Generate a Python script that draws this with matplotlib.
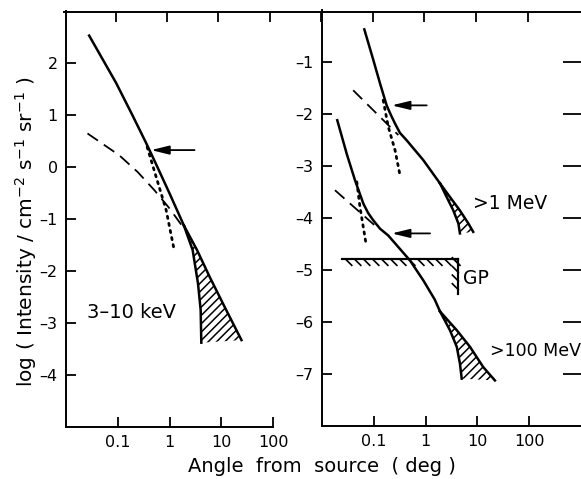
import matplotlib
matplotlib.use("Agg")
import matplotlib.pyplot as plt
import matplotlib.patheffects as pe

W, H = 581, 479

# ---------------- 3-10 keV panel ----------------
kev_main_x = [0.028, 0.093, 0.19, 0.36, 0.55, 1.0, 1.9]
kev_main_y = [2.52, 1.61, 1.0, 0.44, 0.05, -0.51, -1.13]
kev_upper_x = [1.9, 3.4, 6.0, 12.0, 24.6]
kev_upper_y = [-1.13, -1.6, -2.12, -2.72, -3.33]
kev_lower_x = [1.9, 2.8, 3.55, 4.0, 4.12]
kev_lower_y = [-1.13, -1.6, -2.24, -2.75, -3.38]
kev_dash_x = [0.026, 0.107, 0.242, 0.51, 1.0, 1.95]
kev_dash_y = [0.64, 0.22, -0.1, -0.45, -0.8, -1.2]
kev_dot_x = [0.37, 0.55, 0.86, 1.25]
kev_dot_y = [0.38, -0.19, -0.83, -1.63]
kev_arrow = (3.05, 0.44, 0.32)   # tail x, tip x, y

# ---------------- >1 MeV ----------------
mev1_main_x = [0.0656, 0.098, 0.132, 0.177, 0.215, 0.257, 0.32, 0.43, 0.9, 1.9]
mev1_main_y = [-0.38, -0.97, -1.42, -1.84, -2.03, -2.19, -2.37, -2.51, -2.89, -3.34]
mev1_upper_x = [1.9, 2.95, 4.6, 6.7, 8.3]
mev1_upper_y = [-3.34, -3.6, -3.86, -4.11, -4.27]
mev1_lower_x = [1.9, 2.55, 3.43, 4.3, 4.6]
mev1_lower_y = [-3.34, -3.6, -3.86, -4.11, -4.3]
mev1_dash_x = [0.04, 0.297]
mev1_dash_y = [-1.55, -2.41]
mev1_dot_x = [0.152, 0.19, 0.257, 0.32]
mev1_dot_y = [-1.74, -2.25, -2.70, -3.18]
mev1_arrow = (1.05, 0.222, -1.84)

# ---------------- >100 MeV ----------------
mev100_main_x = [0.0197, 0.030, 0.0434, 0.063, 0.078, 0.098, 0.132, 0.19,
                 0.5, 0.9, 1.5, 1.9]
mev100_main_y = [-2.125, -2.77, -3.28, -3.73, -3.91, -4.05, -4.21, -4.34,
                 -4.82, -5.2, -5.57, -5.8]
mev100_upper_x = [1.9, 4.0, 7.2, 13.0, 21.8]
mev100_upper_y = [-5.8, -6.16, -6.48, -6.87, -7.125]
mev100_lower_x = [1.9, 2.95, 4.0, 4.6, 4.98]
mev100_lower_y = [-5.8, -6.16, -6.48, -6.8, -7.09]
mev100_dash_x = [0.0178, 0.114]
mev100_dash_y = [-3.47, -4.18]
mev100_dot_x = [0.047, 0.054, 0.070]
mev100_dot_y = [-3.31, -3.79, -4.47]
mev100_arrow = (1.22, 0.222, -4.30)

# GP limit
gp_x = [0.024, 4.27]
gp_y = [-4.8, -5.46]

x_ticks = [0.1, 1, 10, 100]
x_labels = ["0.1", "1", "10", "100"]
left_yticks = [2, 1, 0, -1, -2, -3, -4]
right_yticks = [-1, -2, -3, -4, -5, -6, -7]

plt.rcParams["font.family"] = "DejaVu Sans"
plt.rcParams["hatch.linewidth"] = 1.1

fig = plt.figure(figsize=(W / 100, H / 100), dpi=100)


def fx(px):
    return px / W


def fy(py):
    return 1 - py / H


def style_axis(ax, xmax, ylim, yticks):
    ax.set_xscale("log")
    ax.set_xlim(0.01, xmax)
    ax.set_ylim(*ylim)
    ax.set_xticks(x_ticks)
    ax.set_xticklabels(x_labels)
    ax.minorticks_off()
    ax.set_yticks(yticks)
    ax.set_yticklabels([str(v).replace("-", "\u2013") for v in yticks])
    ax.spines["top"].set_visible(False)
    ax.spines["right"].set_visible(False)
    for s in ("left", "bottom"):
        ax.spines[s].set_linewidth(1.4)
    ax.tick_params(direction="in", length=7, width=1.3, labelsize=11.5, pad=6)
    ax.patch.set_alpha(0)


def draw_source(ax, mx, my, ux, uy, lx, ly, dx, dy, ox, oy, arrow):
    ax.fill(lx + ux[::-1], ly + uy[::-1], facecolor="none", edgecolor="black",
            hatch="////", linewidth=0)
    ax.plot(mx, my, color="black", lw=1.8, solid_joinstyle="round")
    ax.plot(ux, uy, color="black", lw=1.8, solid_joinstyle="round")
    ax.plot(lx, ly, color="black", lw=1.8, solid_joinstyle="round")
    ax.plot(dx, dy, color="black", lw=1.3, dashes=(7, 4))
    ax.plot(ox, oy, color="black", lw=2.0, linestyle=(0, (0.8, 1.8)),
            dash_capstyle="round")
    ax.annotate("", xy=(arrow[1], arrow[2]), xytext=(arrow[0], arrow[2]),
                arrowprops=dict(arrowstyle="-|>,head_length=0.9,head_width=0.22",
                                color="black", lw=1.3, mutation_scale=12,
                                shrinkA=0, shrinkB=0))


# outer frame line along the top
frame = fig.add_axes([fx(64), fy(427), fx(590) - fx(64), fy(11.5) - fy(427)])
frame.set_xlim(0, (590 - 64) / 51.5)
frame.set_ylim(0, 1)
for s in ("left", "right", "bottom"):
    frame.spines[s].set_visible(False)
frame.spines["top"].set_linewidth(1.4)
frame.set_xticks(range(1, 10))
frame.set_yticks([])
frame.tick_params(axis="x", top=True, bottom=False, labeltop=False,
                  labelbottom=False, direction="in", length=7, width=1.3)
frame.patch.set_alpha(0)

# left panel
ax1 = fig.add_axes([fx(66), fy(427), fx(273) - fx(66), fy(10.6) - fy(427)])
style_axis(ax1, 100, (-5, 3), left_yticks)
draw_source(ax1, kev_main_x, kev_main_y, kev_upper_x, kev_upper_y,
            kev_lower_x, kev_lower_y, kev_dash_x, kev_dash_y,
            kev_dot_x, kev_dot_y, kev_arrow)
ax1.text(0.026, -2.8, "3\u201310 keV", fontsize=14, va="center", ha="left")

# right panel
ax2 = fig.add_axes([fx(322), fy(426), fx(581) - fx(322), fy(9.6) - fy(426)])
style_axis(ax2, 1000, (-8, 0), right_yticks)
ax2.tick_params(axis="y", right=True, labelright=False)
for t in ax2.yaxis.get_major_ticks():
    t.tick2line.set_markersize(13)
draw_source(ax2, mev1_main_x, mev1_main_y, mev1_upper_x, mev1_upper_y,
            mev1_lower_x, mev1_lower_y, mev1_dash_x, mev1_dash_y,
            mev1_dot_x, mev1_dot_y, mev1_arrow)
draw_source(ax2, mev100_main_x, mev100_main_y, mev100_upper_x, mev100_upper_y,
            mev100_lower_x, mev100_lower_y, mev100_dash_x, mev100_dash_y,
            mev100_dot_x, mev100_dot_y, mev100_arrow)

# galactic plane limit
ax2.plot([gp_x[1], gp_x[0]], [gp_y[0], gp_y[0]], color="black", lw=1.5,
         path_effects=[pe.Stroke(linewidth=1.5, foreground="black"),
                       pe.withTickedStroke(angle=135, spacing=6, length=1.0,
                                           linewidth=1.2)])
ax2.plot([gp_x[1], gp_x[1]], [gp_y[1], gp_y[0]], color="black", lw=1.5,
         path_effects=[pe.Stroke(linewidth=1.5, foreground="black"),
                       pe.withTickedStroke(angle=45, spacing=6, length=1.0,
                                           linewidth=1.2)])

ax2.text(8.2, -3.72, ">1 MeV", fontsize=13.5, va="center", ha="left")
ax2.text(17.5, -6.55, ">100 MeV", fontsize=12.5, va="center", ha="left")
ax2.text(5.3, -5.17, "GP", fontsize=13.5, va="center", ha="left")

fig.text(fx(26), fy(232), "log ( Intensity / cm$^{-2}$ s$^{-1}$ sr$^{-1}$ )",
         rotation=90, ha="center", va="center", fontsize=14.5)
fig.text(fx(322), fy(466), "Angle  from  source  ( deg )",
         ha="center", va="center", fontsize=14)

fig.savefig("out.png", dpi=100)
